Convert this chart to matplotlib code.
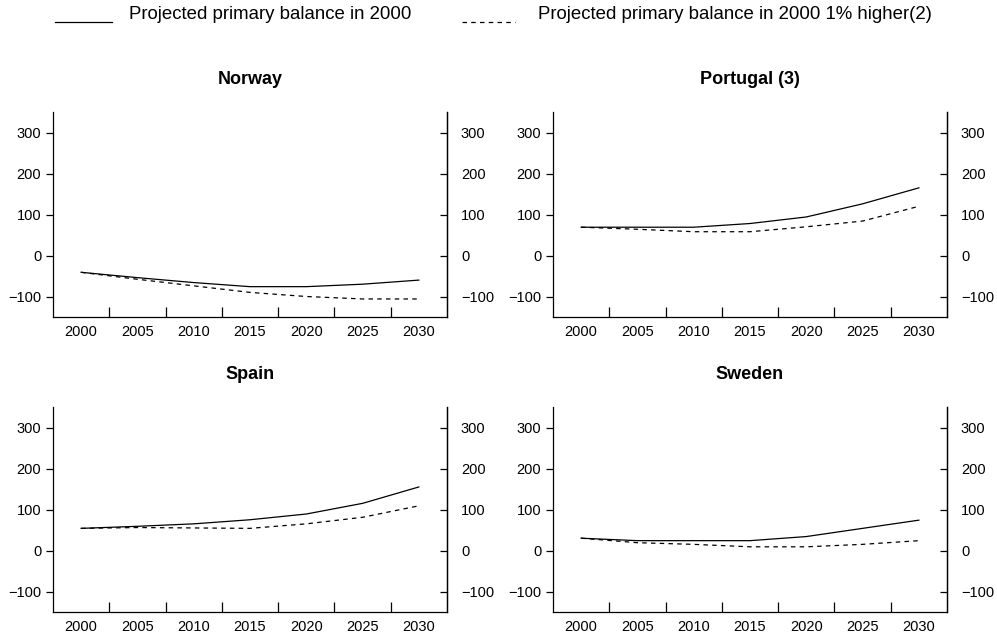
import numpy as np
import matplotlib.pyplot as plt
from matplotlib.lines import Line2D

plt.rcParams['font.family'] = ['Liberation Sans', 'DejaVu Sans']

years = ["2000", "2005", "2010", "2015", "2020", "2025", "2030"]

norway_base = [-41, -54, -66, -76, -76, -70, -60]
norway_high = [-41, -58, -74, -90, -100, -106, -106]
portugal_base = [69, 69, 69, 78, 94, 126, 165]
portugal_high = [69, 64, 58, 58, 70, 84, 120]
spain_base = [54, 59, 65, 75, 89, 115, 155]
spain_high = [54, 56, 55, 54, 65, 81, 109]
sweden_base = [30, 24, 24, 24, 34, 54, 74]
sweden_high = [30, 19, 15, 9, 9, 15, 24]

panels = [
    ("Norway", norway_base, norway_high),
    ("Portugal (3)", portugal_base, portugal_high),
    ("Spain", spain_base, spain_high),
    ("Sweden", sweden_base, sweden_high),
]

label_base = "Projected primary balance in 2000"
label_high = "Projected primary balance in 2000 1% higher(2)"

yticks = [-100, 0, 100, 200, 300]
ytick_labels = ["\u2212100", "0", "100", "200", "300"]

W, H = 997, 641
fig = plt.figure(figsize=(W / 100, H / 100), dpi=100)

# panel boxes in pixels: (left, top, right, bottom)
boxes = [(53, 112, 447, 317), (553, 112, 947, 317),
         (53, 407, 447, 612), (553, 407, 947, 612)]

DASH = (0, (3.6, 3.4))
LW = 0.9
x = np.arange(len(years)) + 0.5

for (title, base, high), (l, t, r, b) in zip(panels, boxes):
    ax = fig.add_axes([l / W, 1 - b / H, (r - l) / W, (b - t) / H])
    ax.plot(x, base, color="black", lw=LW)
    ax.plot(x, high, color="black", lw=LW, ls=DASH)
    ax.set_xlim(0, len(years))
    ax.set_ylim(-150, 350)
    ax.spines["top"].set_visible(False)
    for s in ["left", "right", "bottom"]:
        ax.spines[s].set_linewidth(LW)

    # ticks between categories, labels at category centres
    ax.set_xticks(np.arange(1, len(years)))
    ax.set_xticklabels([])
    ax.set_xticks(x, minor=True)
    ax.set_xticklabels(years, minor=True, fontsize=10.5)
    ax.tick_params(axis="x", which="major", direction="in", length=7, width=LW)
    ax.tick_params(axis="x", which="minor", length=0, pad=6)

    ax.set_yticks(yticks)
    ax.set_yticklabels(ytick_labels, fontsize=10.5)
    ax.tick_params(axis="y", direction="out", length=5, width=LW, pad=3.5)

    ax2 = ax.twinx()
    ax2.set_ylim(-150, 350)
    ax2.set_yticks(yticks)
    ax2.set_yticklabels(ytick_labels, fontsize=10.5)
    ax2.tick_params(axis="y", direction="in", length=5, width=LW, pad=10)
    for s in ["top", "left", "bottom"]:
        ax2.spines[s].set_visible(False)
    ax2.spines["right"].set_linewidth(LW)

    ax.set_title(title, fontsize=13, fontweight="bold", pad=20)

# legend drawn by hand: line sits on the text baseline
ly = 1 - 22 / H
fig.add_artist(Line2D([55 / W, 112 / W], [ly, ly], color="black", lw=LW))
fig.text(129 / W, 1 - 19 / H, label_base, fontsize=13.4, va="baseline")
fig.add_artist(Line2D([462 / W, 515 / W], [ly, ly], color="black", lw=LW, ls=DASH))
fig.text(538 / W, 1 - 19 / H, label_high, fontsize=13.4, va="baseline")

fig.savefig("out.png", dpi=100)
